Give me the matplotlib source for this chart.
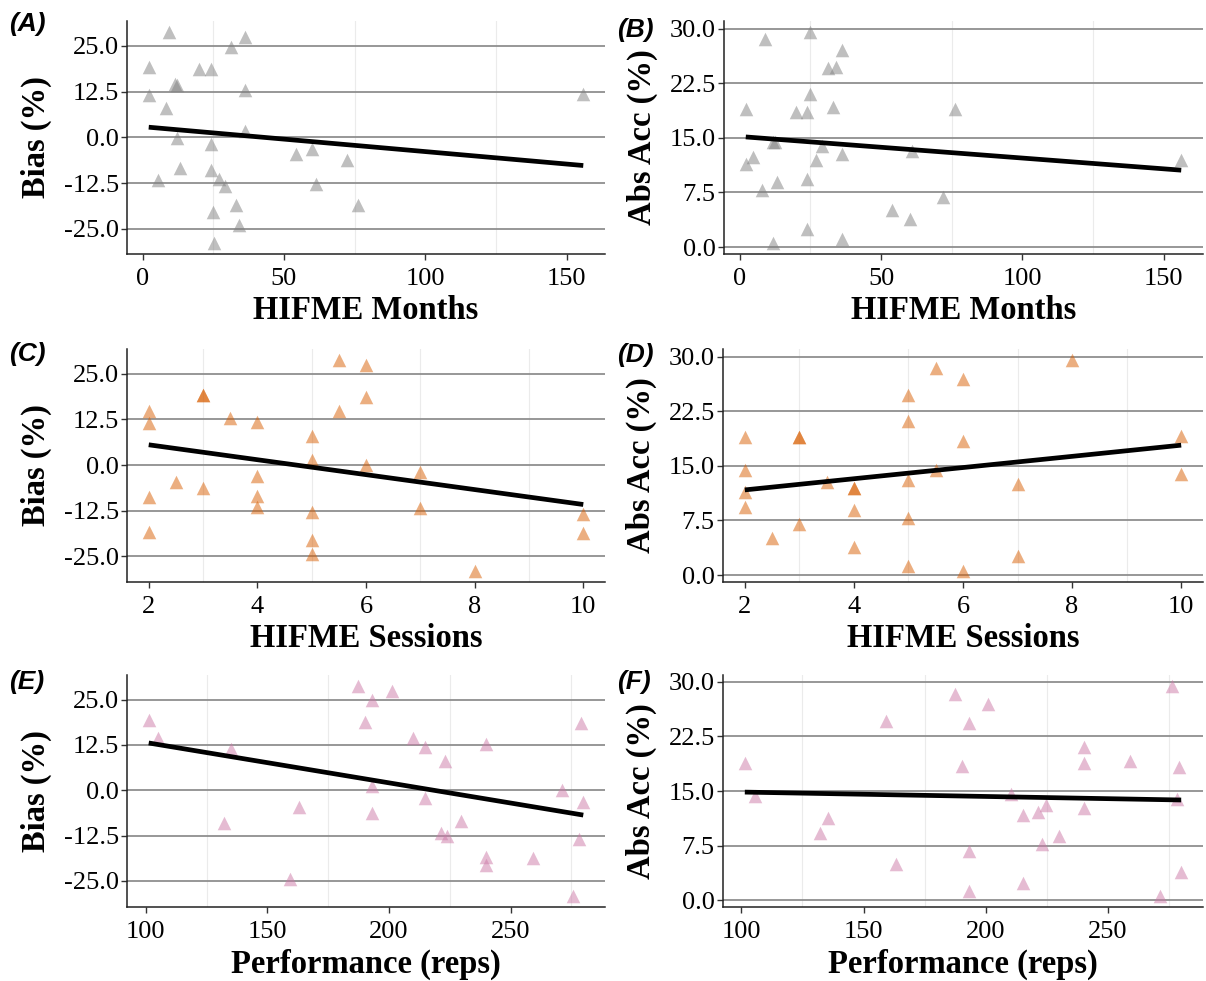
import numpy as np
import matplotlib
matplotlib.use('Agg')
import matplotlib.pyplot as plt
from matplotlib.ticker import FixedLocator, FormatStrFormatter

plt.rcParams['font.family'] = ['Liberation Serif', 'DejaVu Serif']

# (A) months vs bias
months_a = [9.3, 36.2, 31.2, 2.2, 20.0, 24.3, 11.4, 12.3, 36.2, 2.2, 155.9, 8.4, 36.2, 12.3,
            24.3, 54.2, 60.1, 72.3, 13.2, 24.1, 5.5, 27.1, 29.2, 61.2, 33.0, 76.1, 25.1, 34.2, 25.2]
bias_a = [28.9, 27.3, 24.7, 19.1, 18.8, 18.6, 14.5, 14.2, 12.8, 11.5, 11.9, 7.9, 1.6, -0.2,
          -1.9, -4.6, -3.3, -6.3, -8.3, -8.8, -11.7, -11.3, -13.3, -12.8, -18.4, -18.4, -20.5, -24.1, -29.0]

# (B) months vs absolute accuracy
months_b = [9.0, 25.0, 36.2, 31.1, 34.1, 25.0, 2.1, 19.9, 23.8, 33.1, 76.2, 11.6, 12.3, 29.0, 61.0,
            4.8, 2.1, 27.0, 36.2, 156.2, 13.0, 23.8, 7.8, 71.9, 53.9, 60.1, 23.8, 36.2, 11.9]
absacc_b = [28.6, 29.6, 27.1, 24.6, 24.7, 21.0, 18.9, 18.6, 18.5, 19.2, 18.9, 14.5, 14.4, 13.9, 13.2,
            12.4, 11.4, 11.9, 12.8, 11.9, 9.0, 9.3, 7.8, 6.9, 5.1, 3.8, 2.5, 1.1, 0.5]

# (C) sessions vs bias
sessions_c = [5.5, 6, 3, 3, 6, 2, 5.5, 2, 3.5, 4, 5, 5, 6, 7, 4, 2.5, 3, 2, 4, 4, 7, 5, 10, 2, 10, 5, 5, 8]
bias_c = [28.9, 27.4, 19.1, 19.1, 18.7, 14.7, 14.7, 11.5, 12.9, 11.9, 8.0, 1.3, -0.1, -1.9,
          -3.1, -4.6, -6.3, -8.8, -8.4, -11.5, -11.8, -12.7, -13.4, -18.4, -18.7, -20.5, -24.4, -29.1]

# (D) sessions vs absolute accuracy
sessions_d = [8, 5.5, 6, 5, 5, 2, 3, 3, 10, 6, 2, 5.5, 10, 3.5, 4, 4, 5, 7, 2, 2, 4, 5, 3, 2.5, 4, 7, 5, 6]
absacc_d = [29.6, 28.5, 27.0, 24.7, 21.1, 19.0, 18.9, 18.9, 19.1, 18.4, 14.5, 14.5, 13.9, 12.8,
            11.9, 11.9, 13.1, 12.5, 11.4, 9.3, 8.9, 7.9, 7.0, 5.1, 3.9, 2.6, 1.3, 0.5]

# (E) performance vs bias
reps_e = [187.1, 201.2, 193.1, 101.2, 190.2, 278.9, 105.2, 210.0, 215.0, 135.2, 239.9, 223.0, 193.1, 271.0,
          215.0, 279.9, 163.1, 193.1, 132.2, 229.8, 221.3, 224.0, 278.0, 239.9, 259.1, 239.9, 159.2, 275.8]
bias_e = [28.9, 27.3, 24.9, 19.3, 18.8, 18.6, 14.5, 14.5, 11.9, 11.5, 12.8, 8.1, 1.2, 0.0,
          -2.2, -3.2, -4.6, -6.4, -8.9, -8.4, -11.9, -12.6, -13.5, -18.5, -18.7, -20.6, -24.4, -29.3]

# (F) performance vs absolute accuracy
reps_f = [276.1, 187.4, 201.1, 159.1, 193.3, 240.2, 101.4, 190.2, 240.2, 259.2, 279.3, 105.4, 210.2, 278.3,
          224.7, 221.6, 240.2, 215.2, 135.3, 132.3, 230.1, 223.2, 193.3, 163.2, 280.0, 215.2, 193.3, 271.4]
absacc_f = [29.5, 28.4, 26.9, 24.6, 24.4, 21.0, 18.9, 18.5, 18.9, 19.1, 18.3, 14.3, 14.6, 13.9,
            13.1, 12.1, 12.6, 11.7, 11.3, 9.2, 8.8, 7.7, 6.8, 4.9, 3.8, 2.4, 1.2, 0.5]

bias_ticks = [-25, -12.5, 0, 12.5, 25]
abs_ticks = [0, 7.5, 15, 22.5, 30]
months_ticks, months_minor = [0, 50, 100, 150], [25, 75, 125]
sessions_ticks, sessions_minor = [2, 4, 6, 8, 10], [3, 5, 7, 9]
reps_ticks, reps_minor = [100, 150, 200, 250], [125, 175, 225, 275]

GREY = '#808080'
ORANGE = '#D95F02'
PINK = '#CC79A7'

W, H = 1206, 981
fig = plt.figure(figsize=(W / 100, H / 100), dpi=100)

panels = [
    # tag, x, y, color, xlabel, ylabel, xticks, xminor, yticks, rect px (left, top, right, bottom), tag pos px
    ('(A)', months_a, bias_a, GREY, 'HIFME Months', 'Bias (%)', months_ticks, months_minor, bias_ticks,
     (127, 21, 605, 254), (9, 24)),
    ('(B)', months_b, absacc_b, GREY, 'HIFME Months', 'Abs Acc (%)', months_ticks, months_minor, abs_ticks,
     (724, 21, 1203, 254), (617, 30)),
    ('(C)', sessions_c, bias_c, ORANGE, 'HIFME Sessions', 'Bias (%)', sessions_ticks, sessions_minor, bias_ticks,
     (127, 349, 605, 582), (9, 354)),
    ('(D)', sessions_d, absacc_d, ORANGE, 'HIFME Sessions', 'Abs Acc (%)', sessions_ticks, sessions_minor, abs_ticks,
     (723, 349, 1203, 582), (617, 355)),
    ('(E)', reps_e, bias_e, PINK, 'Performance (reps)', 'Bias (%)', reps_ticks, reps_minor, bias_ticks,
     (127, 675, 605, 907), (9, 682)),
    ('(F)', reps_f, absacc_f, PINK, 'Performance (reps)', 'Abs Acc (%)', reps_ticks, reps_minor, abs_ticks,
     (723, 675, 1203, 907), (617, 682)),
]

for tag, x, y, color, xlabel, ylabel, xticks, xminor, yticks, rect, tagpos in panels:
    l, t, r, b = rect
    ax = fig.add_axes([l / W, 1 - b / H, (r - l) / W, (b - t) / H])
    x = np.asarray(x, dtype=float)
    y = np.asarray(y, dtype=float)

    ax.scatter(x, y, marker='^', s=95, color=color, alpha=0.5, linewidths=0, zorder=3)

    # linear fit, like geom_smooth(method='lm', se=FALSE)
    slope, intercept = np.polyfit(x, y, 1)
    xs = np.array([x.min(), x.max()])
    ax.plot(xs, slope * xs + intercept, color='black', lw=3.4, solid_capstyle='butt', zorder=4)

    ax.margins(0.05)
    ax.xaxis.set_major_locator(FixedLocator(xticks))
    ax.xaxis.set_minor_locator(FixedLocator(xminor))
    ax.yaxis.set_major_locator(FixedLocator(yticks))
    ax.yaxis.set_major_formatter(FormatStrFormatter('%.1f'))

    ax.grid(axis='y', which='major', color='#8f8f8f', lw=1.3, zorder=0)
    ax.grid(axis='x', which='minor', color='#ebebeb', lw=0.8, zorder=0)
    ax.set_axisbelow(True)

    for side in ('top', 'right'):
        ax.spines[side].set_visible(False)
    for side in ('left', 'bottom'):
        ax.spines[side].set_linewidth(1.1)
        ax.spines[side].set_color('#222222')

    ax.tick_params(which='major', length=4, width=1, color='#333333', labelsize=19,
                   labelcolor='black', pad=2)
    ax.tick_params(axis='x', which='major', pad=6)
    ax.tick_params(which='minor', length=0)

    ax.set_xlabel(xlabel, fontsize=23.5, fontweight='bold', labelpad=4)
    ax.set_ylabel(ylabel, fontsize=23.5, fontweight='bold', labelpad=8)

    fig.text(tagpos[0] / W, 1 - tagpos[1] / H, tag, fontsize=19, fontweight='bold', fontstyle='italic',
             family=['Liberation Sans', 'DejaVu Sans'], ha='left', va='center')

fig.savefig('out.png', dpi=100)
